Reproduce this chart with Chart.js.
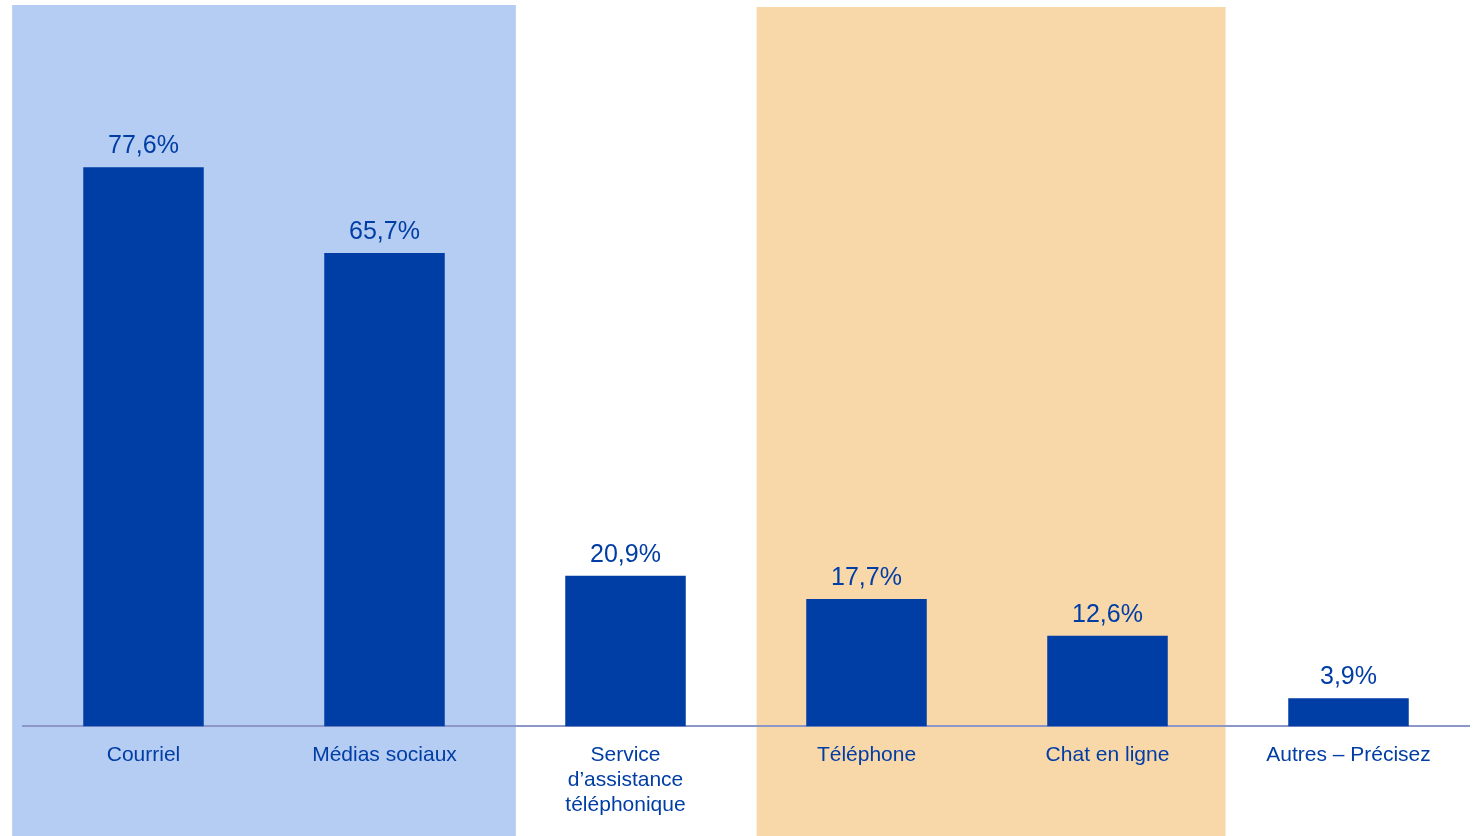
<!DOCTYPE html>
<html>
<head>
<meta charset="utf-8">
<script src="https://cdn.jsdelivr.net/npm/chart.js@4.4.1/dist/chart.umd.min.js"></script>
<style>
  html, body { margin: 0; padding: 0; background: #fff; }
  #wrap { width: 1473px; height: 836px; }
</style>
</head>
<body>
<div id="wrap"><canvas id="myChart"></canvas></div>
<script>
const categories = [
    'Courriel',
    'Médias sociaux',
    ['Service', 'd\u2019assistance', 'téléphonique'],
    'Téléphone',
    'Chat en ligne',
    'Autres \u2013 Précisez'
];
const values = [77.6, 65.7, 20.9, 17.7, 12.6, 3.9];
const valueLabels = ['77,6%', '65,7%', '20,9%', '17,7%', '12,6%', '3,9%'];

// shaded groups behind the bars (category index ranges)
const groups = [
    { from: 0, to: 1, color: '#b5cdf2', left: 0.045, right: 0.045, top: 5 },
    { from: 3, to: 4, color: '#f8d7a8', left: -0.044, right: -0.01, top: 7 }
];

const blue = '#003da5';

const groupBoxes = {
    id: 'groupBoxes',
    beforeDraw(chart) {
        const ctx = chart.ctx;
        const x = chart.scales.x;
        const step = x.getPixelForValue(1) - x.getPixelForValue(0);
        ctx.save();
        groups.forEach(g => {
            const x0 = x.getPixelForValue(g.from) - step * (0.5 + g.left);
            const x1 = x.getPixelForValue(g.to) + step * (0.5 + g.right);
            ctx.fillStyle = g.color;
            ctx.fillRect(x0, g.top, x1 - x0, chart.height - g.top);
        });
        ctx.restore();
    }
};

const barLabels = {
    id: 'barLabels',
    afterDatasetsDraw(chart) {
        const ctx = chart.ctx;
        const meta = chart.getDatasetMeta(0);
        ctx.save();
        ctx.font = '25px "Liberation Sans", Arial, sans-serif';
        ctx.fillStyle = blue;
        ctx.textAlign = 'center';
        ctx.textBaseline = 'alphabetic';
        meta.data.forEach((bar, i) => {
            ctx.fillText(valueLabels[i], bar.x, bar.y - 14);
        });
        ctx.restore();
    }
};

window.onload = () => {
    const ctx = document.getElementById('myChart').getContext('2d');
    const myChart = new Chart(ctx, {
        type: 'bar',
        data: {
            labels: categories,
            datasets: [{
                data: values,
                backgroundColor: blue,
                borderWidth: 0,
                categoryPercentage: 1,
                barPercentage: 0.5
            }]
        },
        options: {
            responsive: true,
            maintainAspectRatio: false,
            animation: false,
            layout: { padding: { left: 23, right: 4, top: 6, bottom: 2 } },
            plugins: {
                legend: { display: false },
                tooltip: { enabled: false }
            },
            scales: {
                y: {
                    display: false,
                    min: 0,
                    max: 100
                },
                x: {
                    grid: { display: false, drawTicks: false },
                    border: { display: true, color: '#8c96c8', width: 2 },
                    ticks: {
                        color: blue,
                        padding: 16,
                        maxRotation: 0,
                        autoSkip: false,
                        font: { family: '"Liberation Sans", Arial, sans-serif', size: 21, lineHeight: 1.2 }
                    }
                }
            }
        },
        plugins: [groupBoxes, barLabels]
    });
};
</script>
</body>
</html>
